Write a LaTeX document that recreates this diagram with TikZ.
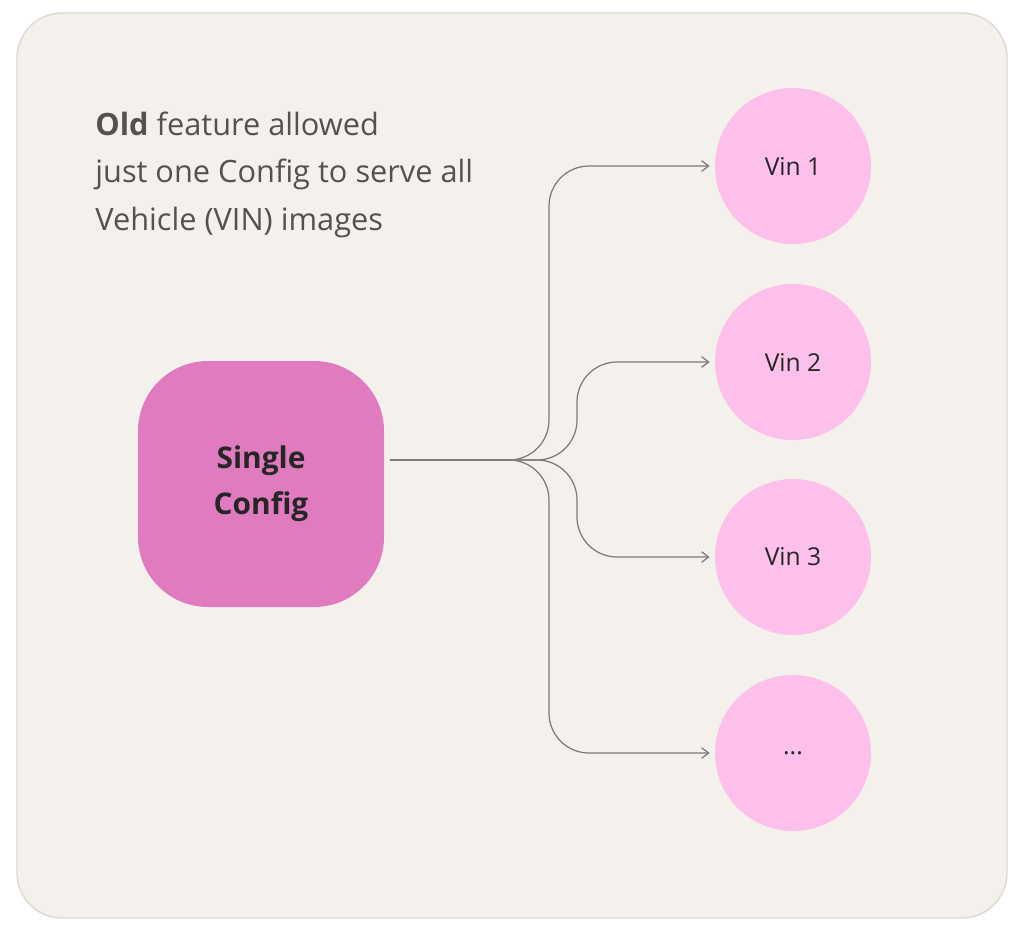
\documentclass[tikz,border=0pt]{standalone}
\usepackage{fontspec}
\setmainfont{Open Sans}
\usetikzlibrary{arrows.meta}
\definecolor{cardbg}{HTML}{F4F1EC}
\definecolor{cardline}{HTML}{DCD9D4}
\definecolor{cfgfill}{HTML}{E07BBF}
\definecolor{vinfill}{HTML}{FCC0EA}
\definecolor{wire}{HTML}{7A7A7A}
\definecolor{txtgray}{HTML}{55514D}
\tikzset{
  vin/.style={circle, fill=vinfill, minimum size=156*0.02cm, inner sep=0pt,
    font=\fontsize{14}{17}\selectfont, text=black!85},
  cfg/.style={fill=cfgfill, rounded corners=70*0.02cm, minimum size=246*0.02cm,
    inner sep=0pt, align=center, font=\fontsize{17}{26}\selectfont\bfseries, text=black!85},
  wire/.style={draw=wire, line width=0.7pt, rounded corners=40*0.02cm},
  tip/.style={-{Straight Barb[length=4pt,width=6pt]}}
}
\begin{document}
\begin{tikzpicture}[x=0.02cm, y=-0.02cm]
\useasboundingbox (0,0) rectangle (1024,940);
% card
\draw[fill=cardbg, draw=cardline, line width=0.8pt, rounded corners=45*0.02cm]
  (17,13) rectangle (1007,918);
\node[anchor=north west, align=left, text=txtgray, inner sep=0pt,
  font=\fontsize{17.5}{26.8}\selectfont] (caption) at (95,112)
  {\textbf{Old} feature allowed\\just one Config to serve all\\Vehicle (VIN) images};
% nodes
\node[cfg] (cfg) at (261,484) {Single\\Config};
\node[vin] (v1) at (793,166) {Vin 1};
\node[vin] (v2) at (793,362) {Vin 2};
\node[vin] (v3) at (793,557) {Vin 3};
\node[vin] (v4) at (793,753) {...};
\coordinate (hub) at (505,460);
% connectors
\draw[wire] (390,460) -- (hub);
\draw[wire, tip] (hub) -- ++(44,0) |- ([xshift=-5*0.02cm]v1.west);
\draw[wire, tip] (hub) -- ++(72,0) |- ([xshift=-5*0.02cm]v2.west);
\draw[wire, tip] (hub) -- ++(72,0) |- ([xshift=-5*0.02cm]v3.west);
\draw[wire, tip] (hub) -- ++(44,0) |- ([xshift=-5*0.02cm]v4.west);
\end{tikzpicture}
\end{document}
